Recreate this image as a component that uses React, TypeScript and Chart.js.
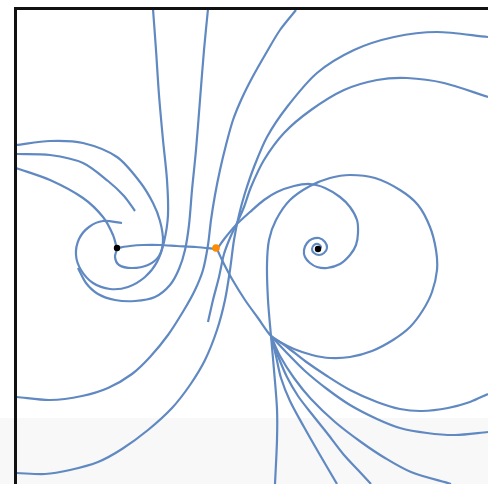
import React, { useEffect, useRef } from "react";
import { Chart, registerables } from "chart.js";

Chart.register(...registerables);

type P = [number, number];

// Streamlines (x right, y down, in view units)
const leftEdge1: P[] = [[16,145],[50,141],[83,143],[117,157],[140,182],[153,203],[160,221],[163,241],[159,256],[148,265],[132,268],[119,265],[115,257],[117,249]];
const leftEdge2: P[] = [[16,154],[50,155],[83,163],[108,181],[124,196],[135,211]];
const leftEdge3: P[] = [[16,168],[50,180],[83,198],[103,217],[113,235],[117,249]];
const topA: P[] = [[153,9],[156,50],[159,95],[163,140],[167,180],[168,215],[164,242],[157,262],[145,277],[128,287],[110,289],[93,283],[81,270],[76,255],[79,239],[89,227],[103,221],[122,223]];
const topR: P[] = [[208,9],[204,50],[200,100],[196,150],[192,190],[189,225],[185,250],[179,269],[170,285],[155,297],[135,301],[115,300],[98,294],[86,283],[78,268]];
const topB: P[] = [[296,10],[280,30],[265,55],[252,78],[242,98],[233,120],[226,145],[220,170],[215,195],[211,220],[208,245],[203,270],[195,290],[184,310],[168,335],[150,357],[132,374],[108,388],[82,396],[50,400],[17,397]];
const arcOuter: P[] = [[488,37],[437,32],[394,37],[354,50],[317,73],[287,107],[267,137],[254,167],[245,193],[239,215],[234,240],[230,270],[225,300],[217,330],[205,360],[190,385],[172,408],[148,430],[122,449],[98,462],[70,470],[45,474],[17,473]];
const arcInner: P[] = [[488,97],[444,83],[407,78],[377,80],[344,90],[311,110],[284,133],[264,160],[251,187],[244,207],[237,223],[230,238],[224,254],[219,277],[213,300],[208,322]];
const loopE: P[] = [[275,484],[277,440],[277,409],[274,370],[271,336],[268,300],[267,265],[269,240],[276,220],[290,200],[310,186],[330,178],[350,175],[375,178],[400,190],[418,205],[430,227],[436,250],[437,270],[432,292],[423,310],[410,327],[393,340],[372,351],[350,357],[330,358],[312,355],[294,349],[280,342],[271,336],[258,318],[245,300],[232,279],[223,262],[217,249]];
const spiralF: P[] = [[217,249],[225,238],[236,225],[250,212],[264,200],[277,192],[294,186],[310,184],[325,188],[340,197],[350,207],[357,220],[358,233],[356,245],[350,255],[340,264],[327,268],[317,267],[310,263],[305,257],[304,250],[307,243],[312,239],[319,238],[325,242],[327,248],[324,253],[319,255],[314,253],[312,249],[314,245],[318,244],[321,247],[319,250]];
const separatrix: P[] = [[117,248],[130,246],[143,245],[160,245],[177,246],[196,247],[217,249]];
const fan1: P[] = [[271,336],[287,347],[305,361],[327,376],[350,390],[377,402],[400,409],[422,411],[448,408],[470,402],[488,394]];
const fan2: P[] = [[271,336],[286,352],[305,371],[327,389],[350,405],[377,419],[400,428],[427,433],[455,435],[488,432]];
const fan3: P[] = [[271,336],[280,356],[294,378],[311,399],[335,422],[361,442],[385,458],[411,472],[451,484]];
const fan4: P[] = [[271,336],[278,356],[287,377],[298,396],[311,413],[327,433],[344,455],[358,470],[371,484]];
const fan5: P[] = [[271,336],[276,356],[281,378],[290,401],[304,427],[320,455],[337,484]];

const frame: P[] = [[15.5,484],[15.5,8.5],[488,8.5]];
const foci: P[] = [[117,248],[318,249]];
const saddle: P[] = [[216,248]];
const bandTop = 418;

const curves: P[][] = [leftEdge1, leftEdge2, leftEdge3, topA, topR, topB, arcOuter, arcInner, loopE, spiralF, separatrix, fan1, fan2, fan3, fan4, fan5];

const toXY = (a: P[]) => a.map(([x, y]) => ({ x, y }));

export default function App() {
  const ref = useRef<HTMLCanvasElement | null>(null);
  useEffect(() => {
    if (!ref.current) return;
    const band = {
      id: "band",
      beforeDatasetsDraw(chart: any) {
        const { ctx, scales } = chart;
        const y0 = scales.y.getPixelForValue(bandTop);
        ctx.save();
        ctx.fillStyle = "#f8f8f8";
        ctx.fillRect(0, y0, chart.width, chart.height - y0);
        ctx.restore();
      },
    };
    const lineDs = curves.map((c) => ({
      type: "scatter" as const,
      data: toXY(c),
      showLine: true,
      borderColor: "#6089c2",
      borderWidth: 2.2,
      pointRadius: 0,
      tension: 0.3,
      fill: false,
      order: 3,
    }));
    const chart = new Chart(ref.current, {
      type: "scatter",
      data: {
        datasets: [
          ...lineDs,
          { type: "scatter", data: toXY(frame), showLine: true, borderColor: "#111111", borderWidth: 3, pointRadius: 0, tension: 0, order: 2 },
          { type: "scatter", data: toXY(foci), pointRadius: 3.2, backgroundColor: "#000000", borderColor: "#000000", pointBackgroundColor: "#000000", pointBorderColor: "#000000", pointBorderWidth: 0, showLine: false, order: 1 },
          { type: "scatter", data: toXY(saddle), pointRadius: 3.8, backgroundColor: "#ff8c00", borderColor: "#ff8c00", pointBackgroundColor: "#ff8c00", pointBorderColor: "#ff8c00", pointBorderWidth: 0, showLine: false, order: 0 },
        ] as any,
      },
      options: {
        animation: false,
        responsive: false,
        devicePixelRatio: 1,
        layout: { padding: 0, autoPadding: false },
        plugins: { legend: { display: false }, tooltip: { enabled: false } },
        scales: {
          x: { type: "linear", min: 0, max: 488, display: false },
          y: { type: "linear", min: 0, max: 484, reverse: true, display: false },
        },
      },
      plugins: [band],
    });
    return () => chart.destroy();
  }, []);
  return (
    <div style={{ position: "fixed", left: 0, top: 0, width: 488, height: 484, background: "#ffffff" }}>
      <canvas ref={ref} width={488} height={484} style={{ display: "block" }} />
    </div>
  );
}
